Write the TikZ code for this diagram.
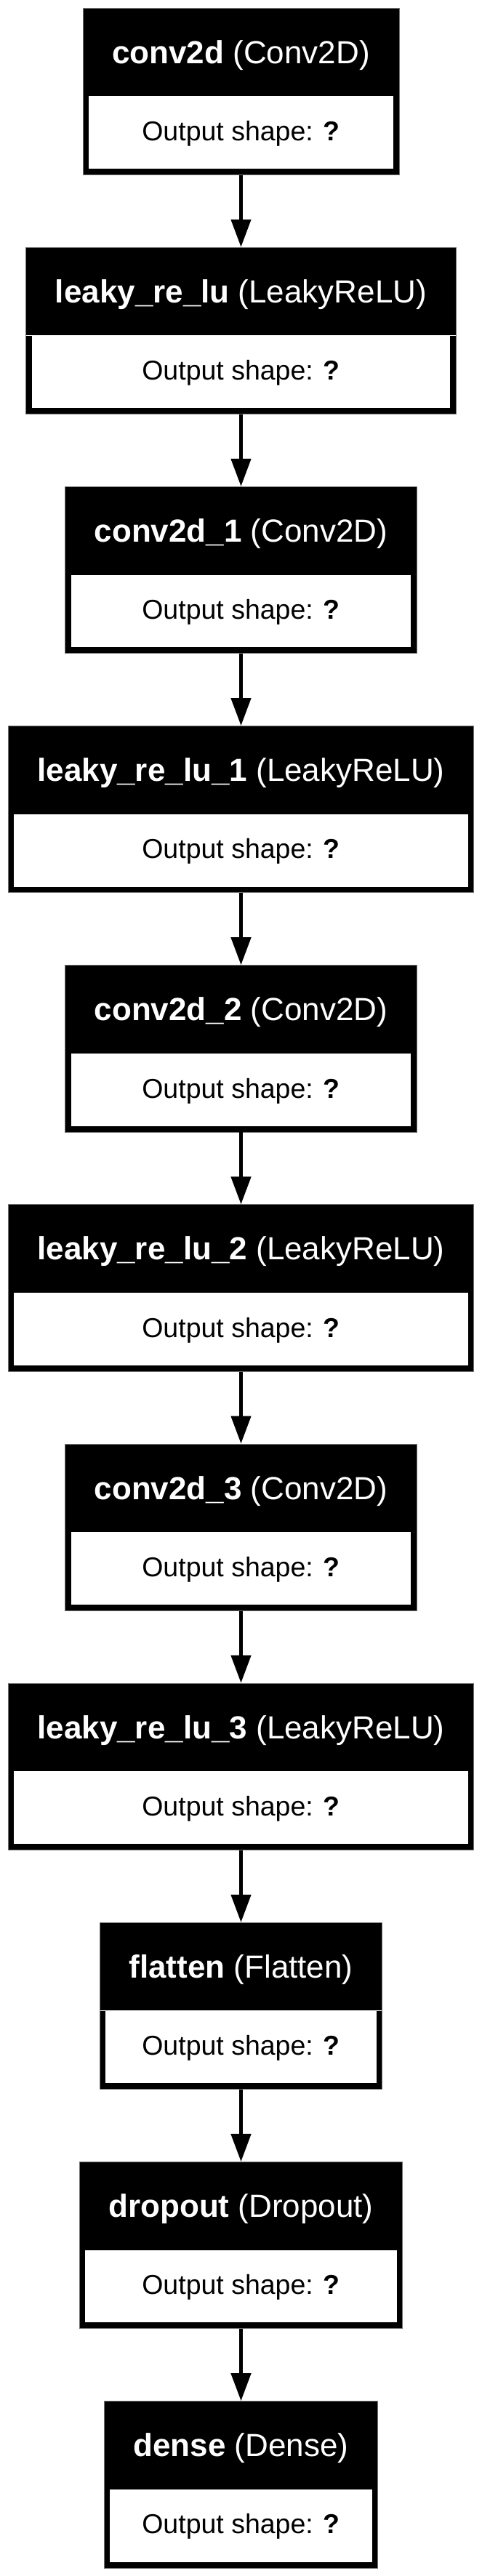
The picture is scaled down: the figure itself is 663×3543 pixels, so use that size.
\documentclass[tikz,border=0pt]{standalone}
\usepackage{fontspec}
\setmainfont{Liberation Sans}
\usetikzlibrary{arrows.meta,calc,fit}
\tikzset{
  hdr/.style={fill=black, text=white, anchor=north, minimum height=121pt,
    inner ysep=0pt, inner xsep=40pt, text height=76pt, text depth=45pt,
    font=\fontsize{44}{50}\selectfont},
  shp/.style={anchor=base, inner sep=0pt, text=black, font=\fontsize{37.5}{44}\selectfont},
  outerbox/.style={inner sep=0pt, draw=black!55, line width=0.8pt},
  link/.style={line width=4.5pt, -{Triangle[length=38pt,width=27pt]}},
}
\newcommand\mklayer[4]{%
  \node[hdr] (h#1) at (331.5,-#4) {\textbf{#2} #3};
  \fill[black] (h#1.south west) rectangle ($(h#1.south east)+(0,-108)$);
  \fill[white] ($(h#1.south west)+(8,0)$) rectangle ($(h#1.south east)+(-8,-99.7)$);
  \coordinate (c#1) at ($(h#1.south)+(0,-108)$);
  \node[shp] (s#1) at ($(h#1.south)+(0,-61)$) {Output shape: \textbf{?}};
  \node[outerbox, fit=(h#1)(c#1)] (b#1) {};
}
\begin{document}
\begin{tikzpicture}[x=1pt,y=1pt]
\useasboundingbox (0,0) rectangle (663,-3543);
\mklayer{0}{conv2d}{(Conv2D)}{11}
\mklayer{1}{leaky\_re\_lu}{(LeakyReLU)}{340.15}
\mklayer{2}{conv2d\_1}{(Conv2D)}{669.3}
\mklayer{3}{leaky\_re\_lu\_1}{(LeakyReLU)}{998.45}
\mklayer{4}{conv2d\_2}{(Conv2D)}{1327.6}
\mklayer{5}{leaky\_re\_lu\_2}{(LeakyReLU)}{1656.75}
\mklayer{6}{conv2d\_3}{(Conv2D)}{1985.9}
\mklayer{7}{leaky\_re\_lu\_3}{(LeakyReLU)}{2315.05}
\mklayer{8}{flatten}{(Flatten)}{2644.2}
\mklayer{9}{dropout}{(Dropout)}{2973.35}
\mklayer{10}{dense}{(Dense)}{3302.5}
\foreach \a/\b in {0/1,1/2,2/3,3/4,4/5,5/6,6/7,7/8,8/9,9/10}
  \draw[link] (b\a.south) -- (b\b.north);
\end{tikzpicture}
\end{document}
